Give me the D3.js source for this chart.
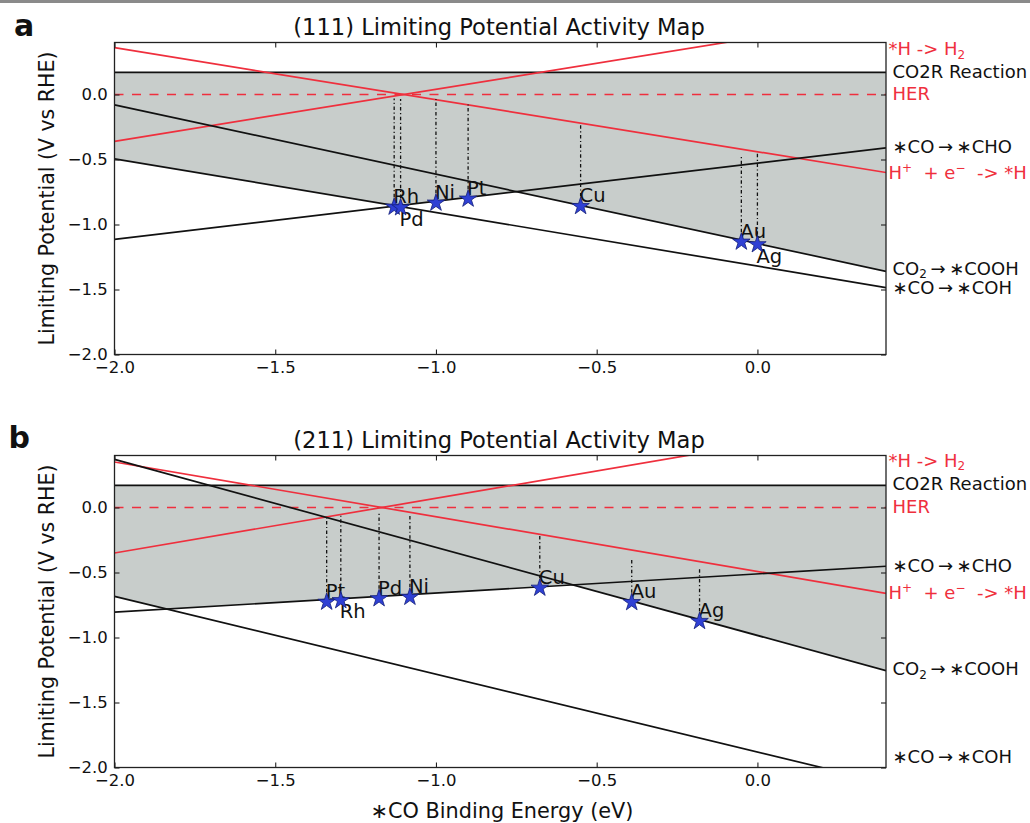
<!DOCTYPE html>
<html><head><meta charset="utf-8">
<script src="https://cdn.jsdelivr.net/npm/d3@7"></script>
<style>
body{margin:0;background:#fff;}
text{font-family:"DejaVu Sans",sans-serif;}
</style>
</head><body>
<svg id="c" width="1030" height="823"></svg>
<script>
// ---------------- data ----------------
const xDomain = [-2.0, 0.4];
const yDomain = [-2.0, 0.4];
const tickValues = [-2.0, -1.5, -1.0, -0.5, 0.0];
const titles = ["(111) Limiting Potential Activity Map", "(211) Limiting Potential Activity Map"];
const panelLetters = ["a", "b"];
const xLabel = "\u2217CO Binding Energy (eV)";
const yLabel = "Limiting Potential (V vs RHE)";
const co2rLevel = [0.17, 0.17];
const herLevel = [0.0, 0.0];
// line end points [x0, y0, x1, y1] per facet (111, 211)
const h2Lines   = [[-2.0, -0.36, 0.4, 0.60], [-2.0, -0.35, 0.4, 0.66]];
const hAdsLines = [[-2.0, 0.36, 0.4, -0.60], [-2.0, 0.35, 0.4, -0.66]];
const coohLines = [[-2.0, -0.08, 0.4, -1.36], [-2.0, 0.37, 0.4, -1.255]];
const choLines  = [[-2.0, -1.115, 0.4, -0.41], [-2.0, -0.805, 0.4, -0.452]];
const cohLines  = [[-2.0, -0.495, 0.4, -1.485], [-2.0, -0.684, 0.4, -2.12]];
// metals
const metals111 = ["Rh", "Pd", "Ni", "Pt", "Cu", "Au", "Ag"];
const bind111   = [-1.13, -1.11, -1.0, -0.90, -0.55, -0.05, 0.0];
const ul111     = [-0.865, -0.87, -0.834, -0.803, -0.86, -1.134, -1.154];
const her111    = [-0.03, -0.035, -0.034, -0.077, -0.223, -0.467, -0.44];
const pos111    = ["above", "below", "above", "above", "above", "above", "below"];
const metals211 = ["Pt", "Rh", "Pd", "Ni", "Cu", "Au", "Ag"];
const bind211   = [-1.34, -1.296, -1.177, -1.081, -0.677, -0.391, -0.18];
const ul211     = [-0.727, -0.715, -0.70, -0.689, -0.619, -0.73, -0.875];
const her211    = [-0.072, -0.062, -0.035, -0.046, -0.208, -0.388, -0.47];
const pos211    = ["above", "below", "above", "above", "above", "above", "above"];
// right-hand labels: text segments and the y value they sit at
const rightText = [
  [["*H -> H", ""], ["2", "sub"]],
  [["CO2R Reaction", ""]],
  [["HER", ""]],
  [["\u2217CO\u2009\u2192\u2009\u2217CHO", ""]],
  [["H", ""], ["+", "sup"], ["  + e", ""], ["\u2212", "sup"], ["  -> *H", ""]],
  [["CO", ""], ["2", "sub"], ["\u2009\u2192\u2009\u2217COOH", ""]],
  [["\u2217CO\u2009\u2192\u2009\u2217COH", ""]]
];
const rightRed = [true, false, true, false, true, false, false];
const rightY111 = [0.352, 0.175, 0.005, -0.40, -0.603, -1.337, -1.488];
const rightY211 = [0.365, 0.183, 0.01, -0.445, -0.653, -1.24, -1.917];

// ---------------- drawing ----------------
const RED = "#ef2f3d", FILL = "#c8cdcb", STAR = "#2f40d4";
const svg = d3.select("#c");
svg.append("rect").attr("width", 1030).attr("height", 823).attr("fill", "#fff");
svg.append("rect").attr("width", 1030).attr("height", 3).attr("fill", "#8a8a8a");

const left = 114.5, right = 886;
const facets = [
  {top: 42.5, bottom: 354.5, title: 35, letterX: 14, letterY: 36,
   metals: metals111, bind: bind111, ul: ul111, her: her111, pos: pos111, ry: rightY111},
  {top: 455.5, bottom: 767.5, title: 448, letterX: 8.5, letterY: 448,
   metals: metals211, bind: bind211, ul: ul211, her: her211, pos: pos211, ry: rightY211}
];

function val(L, xv) { return L[1] + (L[3] - L[1]) * (xv - L[0]) / (L[2] - L[0]); }

facets.forEach((f, i) => {
  const x = d3.scaleLinear().domain(xDomain).range([left, right]);
  const y = d3.scaleLinear().domain(yDomain).range([f.bottom, f.top]);
  const g = svg.append("g");
  const cid = "clip" + i;
  g.append("clipPath").attr("id", cid).append("rect")
    .attr("x", left).attr("y", f.top).attr("width", right - left).attr("height", f.bottom - f.top);
  const pg = g.append("g").attr("clip-path", `url(#${cid})`);

  // shaded CO2R region
  const xs = d3.range(0, 1201).map(k => xDomain[0] + k * (xDomain[1] - xDomain[0]) / 1200);
  const env = xv => Math.min(val(coohLines[i], xv), Math.max(val(cohLines[i], xv), val(choLines[i], xv)));
  pg.append("path").datum(xs)
    .attr("d", d3.area().x(d => x(d)).y0(d => y(env(d))).y1(y(co2rLevel[i])))
    .attr("fill", FILL);

  const line = d3.line().x(d => x(d[0])).y(d => y(d[1]));
  const seg = L => [[L[0], L[1]], [L[2], L[3]]];
  // CO2R reaction level
  pg.append("path").attr("d", line([[xDomain[0], co2rLevel[i]], [xDomain[1], co2rLevel[i]]]))
    .attr("stroke", "#111").attr("stroke-width", 1.6).attr("fill", "none");
  // HER dashed
  pg.append("path").attr("d", line([[xDomain[0], herLevel[i]], [xDomain[1], herLevel[i]]]))
    .attr("stroke", RED).attr("stroke-width", 1.6).attr("stroke-dasharray", "9,8.5").attr("fill", "none");
  // red lines
  [h2Lines[i], hAdsLines[i]].forEach(L => {
    pg.append("path").attr("d", line(seg(L))).attr("stroke", RED).attr("stroke-width", 1.7).attr("fill", "none");
  });
  // black lines
  [coohLines[i], choLines[i], cohLines[i]].forEach(L => {
    pg.append("path").attr("d", line(seg(L))).attr("stroke", "#111").attr("stroke-width", 1.7).attr("fill", "none");
  });
  // drop lines
  f.metals.forEach((m, k) => {
    pg.append("path").attr("d", line([[f.bind[k], f.ul[k]], [f.bind[k], f.her[k]]]))
      .attr("stroke", "#111").attr("stroke-width", 1.3).attr("stroke-dasharray", "3.5,2.5,1.2,2.5")
      .attr("fill", "none");
  });
  // labels
  f.metals.forEach((m, k) => {
    g.append("text").attr("x", x(f.bind[k]) - 1)
      .attr("y", y(f.ul[k]) + (f.pos[k] === "above" ? -4 : 18))
      .attr("font-size", 19.5).attr("fill", "#111").text(m);
  });
  // stars
  const star = d3.symbol().type(d3.symbolStar).size(95);
  f.metals.forEach((m, k) => {
    g.append("path").attr("d", star())
      .attr("transform", `translate(${x(f.bind[k])},${y(f.ul[k])})`)
      .attr("fill", STAR).attr("stroke", "#14207a").attr("stroke-width", 0.8);
  });

  // frame
  g.append("rect").attr("x", left).attr("y", f.top).attr("width", right - left).attr("height", f.bottom - f.top)
    .attr("fill", "none").attr("stroke", "#222").attr("stroke-width", 1.3);

  // axes with inner ticks
  const fmt = d3.format(".1f");
  const ax = (gen, tx, ty, labels) => {
    const a = g.append("g").attr("transform", `translate(${tx},${ty})`)
      .call(gen.tickValues(tickValues).tickSize(-5).tickPadding(labels ? 6.8 : 0).tickFormat(labels ? fmt : ""));
    a.select(".domain").remove();
    a.selectAll("line").attr("stroke", "#222").attr("stroke-width", 1.1);
    a.selectAll("text").attr("font-size", 16.5).attr("fill", "#111").attr("font-family", "DejaVu Sans");
    return a;
  };
  ax(d3.axisBottom(x), 0, f.bottom, true);
  ax(d3.axisTop(x), 0, f.top, false);
  ax(d3.axisLeft(y), left, 0, true);
  ax(d3.axisRight(y), right, 0, false);

  // title
  g.append("text").attr("x", 499).attr("y", f.title).attr("text-anchor", "middle")
    .attr("font-size", 22.6).attr("fill", "#111").text(titles[i]);
  // y label
  g.append("text").attr("transform", `translate(54,${(f.top + f.bottom) / 2}) rotate(-90)`)
    .attr("text-anchor", "middle").attr("font-size", 20.5).attr("fill", "#111").text(yLabel);
  // panel letter
  g.append("text").attr("x", f.letterX).attr("y", f.letterY)
    .attr("font-family", "Liberation Sans, Arial, sans-serif").attr("font-weight", "bold")
    .attr("font-size", 30).attr("fill", "#111").text(panelLetters[i]);

  // right labels
  rightText.forEach((segs, k) => {
    const t = g.append("text").attr("x", right + (rightRed[k] && k !== 2 ? 2.5 : 6.5))
      .attr("y", y(f.ry[k])).attr("dy", "0.36em").attr("font-size", 18)
      .attr("fill", rightRed[k] ? RED : "#111").style("white-space", "pre");
    let shift = 0;
    segs.forEach(s => {
      const sp = t.append("tspan").text(s[0]);
      let target = s[1] === "sub" ? 3.5 : s[1] === "sup" ? -7 : 0;
      if (target !== shift) { sp.attr("dy", target - shift); shift = target; }
      if (s[1]) sp.attr("font-size", 12);
    });
  });
});

// x label
svg.append("text").attr("x", 502).attr("y", 818).attr("text-anchor", "middle")
  .attr("font-size", 20.8).attr("fill", "#111").text(xLabel);
</script>
</body></html>
